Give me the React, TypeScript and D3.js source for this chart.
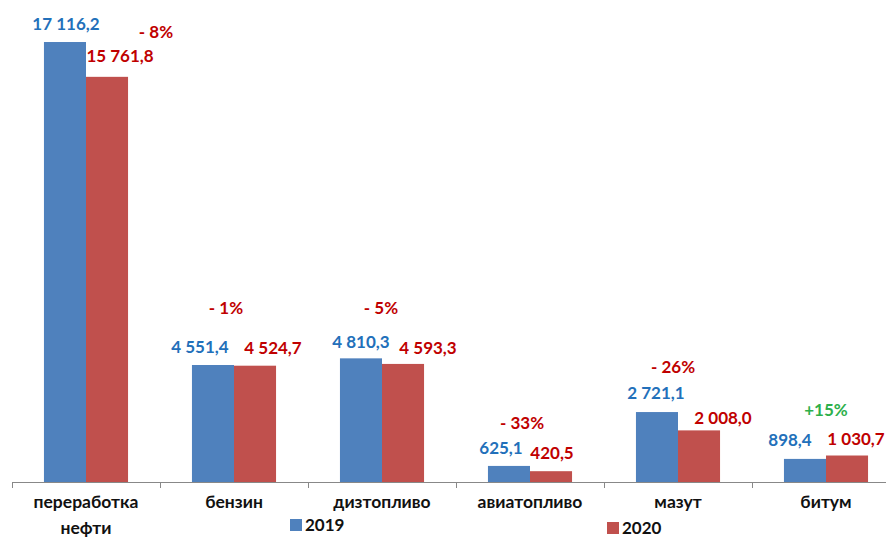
import React from "react";
import * as d3 from "d3";

const categories = ["переработка|нефти", "бензин", "дизтопливо", "авиатопливо", "мазут", "битум"];
const values2019 = [17116.2, 4551.4, 4810.3, 625.1, 2721.1, 898.4];
const values2020 = [15761.8, 4524.7, 4593.3, 420.5, 2008.0, 1030.7];
const changes = ["- 8%", "- 1%", "- 5%", "- 33%", "- 26%", "+15%"];
const seriesNames = ["2019", "2020"];

// layout tweaks for annotation labels (pixels)
const dx2019 = [1, -13, 0, -8, -1, -15];
const dy2019 = [18, 18, 16, 18, 19, 19];
const dx2020 = [13, 18, 25, 1, 24, 9];
const dy2020 = [21, 18, 16, 18, 12, 16];
const dxChange = [70, -8, -1, -8, -5, 0];
const dyChange = [10, 57, 50, 43, 45, 45];

const fmt = (v: number) => {
  const s = v.toFixed(1).replace(".", ",");
  const [i, f] = s.split(",");
  return i.replace(/\B(?=(\d{3})+(?!\d))/g, " ") + "," + f;
};

export default function App() {
  const W = 886, H = 541;
  const x0 = 12, x1 = 900, base = 482;
  const x = d3.scaleBand().domain(categories).range([x0, x1]).paddingInner(0).paddingOuter(0);
  const inner = d3.scaleBand().domain(seriesNames).range([0, x.bandwidth()]).paddingInner(0).paddingOuter(0.76);
  const y = d3.scaleLinear().domain([0, 18000]).range([base, 19.3]);
  const blue = "#4F81BD", red = "#C0504D";
  const tBlue = "#2270BA", tRed = "#C00000", tGreen = "#2DB04B";
  const font = "Lato, 'Open Sans', sans-serif";
  const fs = 17;
  return (
    <svg width={W} height={H} style={{ position: "absolute", left: 0, top: 0, background: "#fff" }} fontFamily={font}>
      <rect width={W} height={H} fill="#fff" />
      {categories.map((c, i) => {
        const bx = x(c)!;
        const xb = bx + inner("2019")!;
        const xr = bx + inner("2020")!;
        const bw = inner.bandwidth();
        const yb = y(values2019[i]);
        const yr = y(values2020[i]);
        const cx = bx + x.bandwidth() / 2;
        const top = Math.min(yb, yr);
        return (
          <g key={c}>
            <rect x={xb} y={yb} width={bw} height={base - yb} fill={blue} />
            <rect x={xr} y={yr} width={bw} height={base - yr} fill={red} />
            <text x={xb + bw / 2 + dx2019[i]} y={yb - dy2019[i]} dy="0.35em" textAnchor="middle" fontWeight="bold" fontSize={fs} fill={tBlue}>{fmt(values2019[i])}</text>
            <text x={xr + bw / 2 + dx2020[i]} y={yr - dy2020[i]} dy="0.35em" textAnchor="middle" fontWeight="bold" fontSize={fs} fill={tRed}>{fmt(values2020[i])}</text>
            <text x={cx + dxChange[i]} y={top - dyChange[i]} dy="0.35em" textAnchor="middle" fontWeight="bold" fontSize={fs} fill={changes[i].startsWith("+") ? tGreen : tRed}>{changes[i]}</text>
            {c.split("|").map((line, k) => (
              <text key={k} x={cx} y={502 + k * 26} dy="0.35em" textAnchor="middle" fontWeight="bold" fontSize={17.5} fill="#111">{line}</text>
            ))}
          </g>
        );
      })}
      <line x1={x0} x2={x1} y1={base + 0.5} y2={base + 0.5} stroke="#888" />
      {d3.range(categories.length + 1).map((k) => {
        const tx = Math.round(x0 + k * x.bandwidth()) + 0.5;
        return <line key={k} x1={tx} x2={tx} y1={base} y2={base + 6} stroke="#888" />;
      })}
      <rect x={290} y={519} width={12} height={12} fill={blue} />
      <text x={305} y={525} dy="0.35em" fontWeight="bold" fontSize={fs} fill="#111">{seriesNames[0]}</text>
      <rect x={607} y={522} width={12} height={12} fill={red} />
      <text x={622} y={528} dy="0.35em" fontWeight="bold" fontSize={fs} fill="#111">{seriesNames[1]}</text>
    </svg>
  );
}
